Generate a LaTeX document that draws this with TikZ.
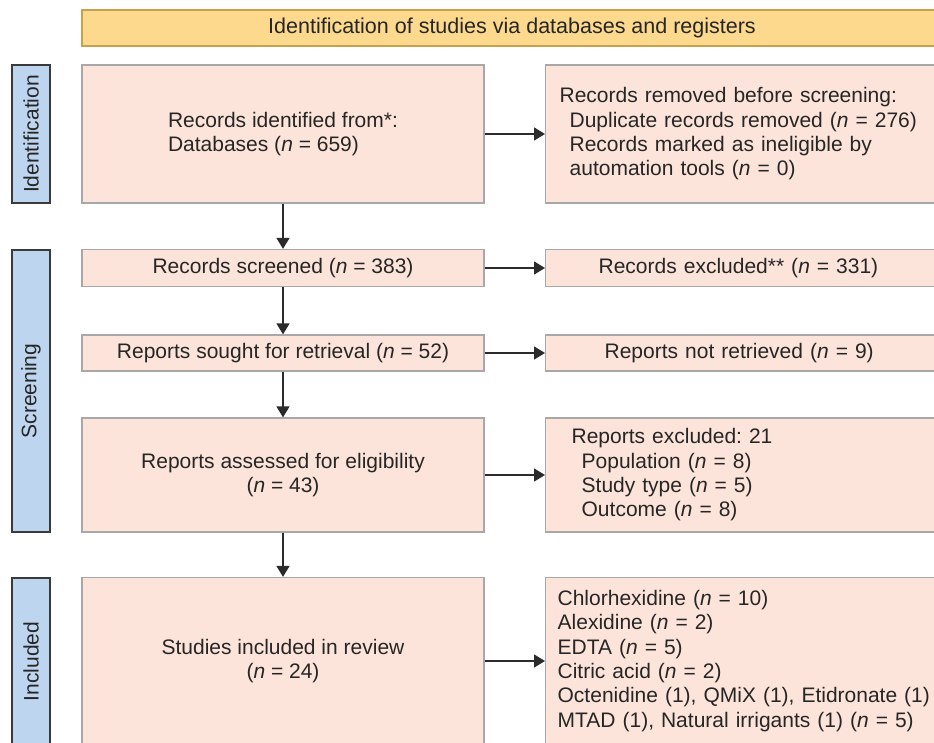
\documentclass[tikz,border=0pt]{standalone}
\usepackage{fontspec}
\setmainfont{Liberation Sans}
\usetikzlibrary{arrows.meta}
\definecolor{boxfill}{HTML}{FCE4DA}
\definecolor{boxline}{HTML}{A8A8A8}
\definecolor{sidefill}{HTML}{BDD5EE}
\definecolor{sideline}{HTML}{3A3A3A}
\definecolor{hdrfill}{HTML}{FDD98E}
\definecolor{hdrline}{HTML}{C9A04E}
\definecolor{arrowc}{HTML}{2B2B2B}
\newcommand{\nn}{\textit{n}}
\frenchspacing
\begin{document}
\begin{tikzpicture}[x=1pt,y=-1pt,
  box/.style={draw=boxline, fill=boxfill, line width=1.3pt, rectangle, inner sep=0pt,
    font=\fontsize{21}{24.3}\selectfont, text=black!85},
  lbox/.style={box, minimum width=402pt, align=center},
  rbox/.style={box, anchor=west, align=left, text width=390pt},
  side/.style={draw=sideline, fill=sidefill, line width=1.3pt, rectangle, rotate=90,
    minimum height=38pt, inner sep=0pt, font=\fontsize{21}{24}\selectfont, text=black!85},
  hdr/.style={draw=hdrline, fill=hdrfill, line width=1.3pt, rectangle, inner sep=0pt,
    font=\fontsize{21.5}{24}\selectfont, text=black!85},
  arr/.style={draw=arrowc, line width=1.4pt, -{Triangle[length=11pt,width=13pt]}}
]
\clip (0,0) rectangle (934,743);
\fill[white] (0,0) rectangle (934,743);

% header
\node[hdr, minimum width=860pt, minimum height=36pt] (hdr) at (512,28) {Identification of studies via databases and registers};

% side labels
\node[side, minimum width=138pt] (sid) at (31,134) {Identification};
\node[side, minimum width=282pt] (sscr) at (31,391) {Screening};
\node[side, minimum width=167pt] (sinc) at (31,661.5) {Included};

% left column
\node[lbox, minimum height=138pt, align=left] (ident) at (283,134) {Records identified from*:\\Databases (\nn{} = 659)};
\node[lbox, minimum height=37pt] (scr) at (283,268) {Records screened (\nn{} = 383)};
\node[lbox, minimum height=36pt] (sought) at (283,353) {Reports sought for retrieval (\nn{} = 52)};
\node[lbox, minimum height=114pt] (assess) at (283,475) {Reports assessed for eligibility\\(\nn{} = 43)};
\node[lbox, minimum height=167pt] (incl) at (283,661) {Studies included in review\\(\nn{} = 24)};

% right column
\node[rbox, inner xsep=14pt, minimum height=138pt] (removed) at (545,134)
  {Records removed before screening:\\
   \hspace*{10pt}Duplicate records removed (\nn{} = 276)\\
   \hspace*{10pt}Records marked as ineligible by\\
   \hspace*{10pt}automation tools (\nn{} = 0)};
\node[rbox, inner xsep=53pt, minimum height=37pt] (excl) at (545,268) {Records excluded** (\nn{} = 331)};
\node[rbox, inner xsep=59pt, minimum height=36pt] (notret) at (545,353) {Reports not retrieved (\nn{} = 9)};
\node[rbox, inner xsep=26pt, minimum height=114pt] (repex) at (545,475)
  {Reports excluded: 21\\
   \hspace*{10pt}Population (\nn{} = 8)\\
   \hspace*{10pt}Study type (\nn{} = 5)\\
   \hspace*{10pt}Outcome (\nn{} = 8)};
\node[rbox, inner xsep=12pt, minimum height=167pt] (list) at (545,661)
  {Chlorhexidine (\nn{} = 10)\\
   Alexidine (\nn{} = 2)\\
   EDTA (\nn{} = 5)\\
   Citric acid (\nn{} = 2)\\
   Octenidine (1), QMiX (1), Etidronate (1)\\
   MTAD (1), Natural irrigants (1) (\nn{} = 5)};

% connectors
\draw[arr] (ident) -- (scr);
\draw[arr] (scr) -- (sought);
\draw[arr] (sought) -- (assess);
\draw[arr] (assess) -- (incl);
\draw[arr] (ident) -- (removed);
\draw[arr] (scr) -- (excl);
\draw[arr] (sought) -- (notret);
\draw[arr] (assess) -- (repex);
\draw[arr] (incl) -- (list);
\end{tikzpicture}
\end{document}
